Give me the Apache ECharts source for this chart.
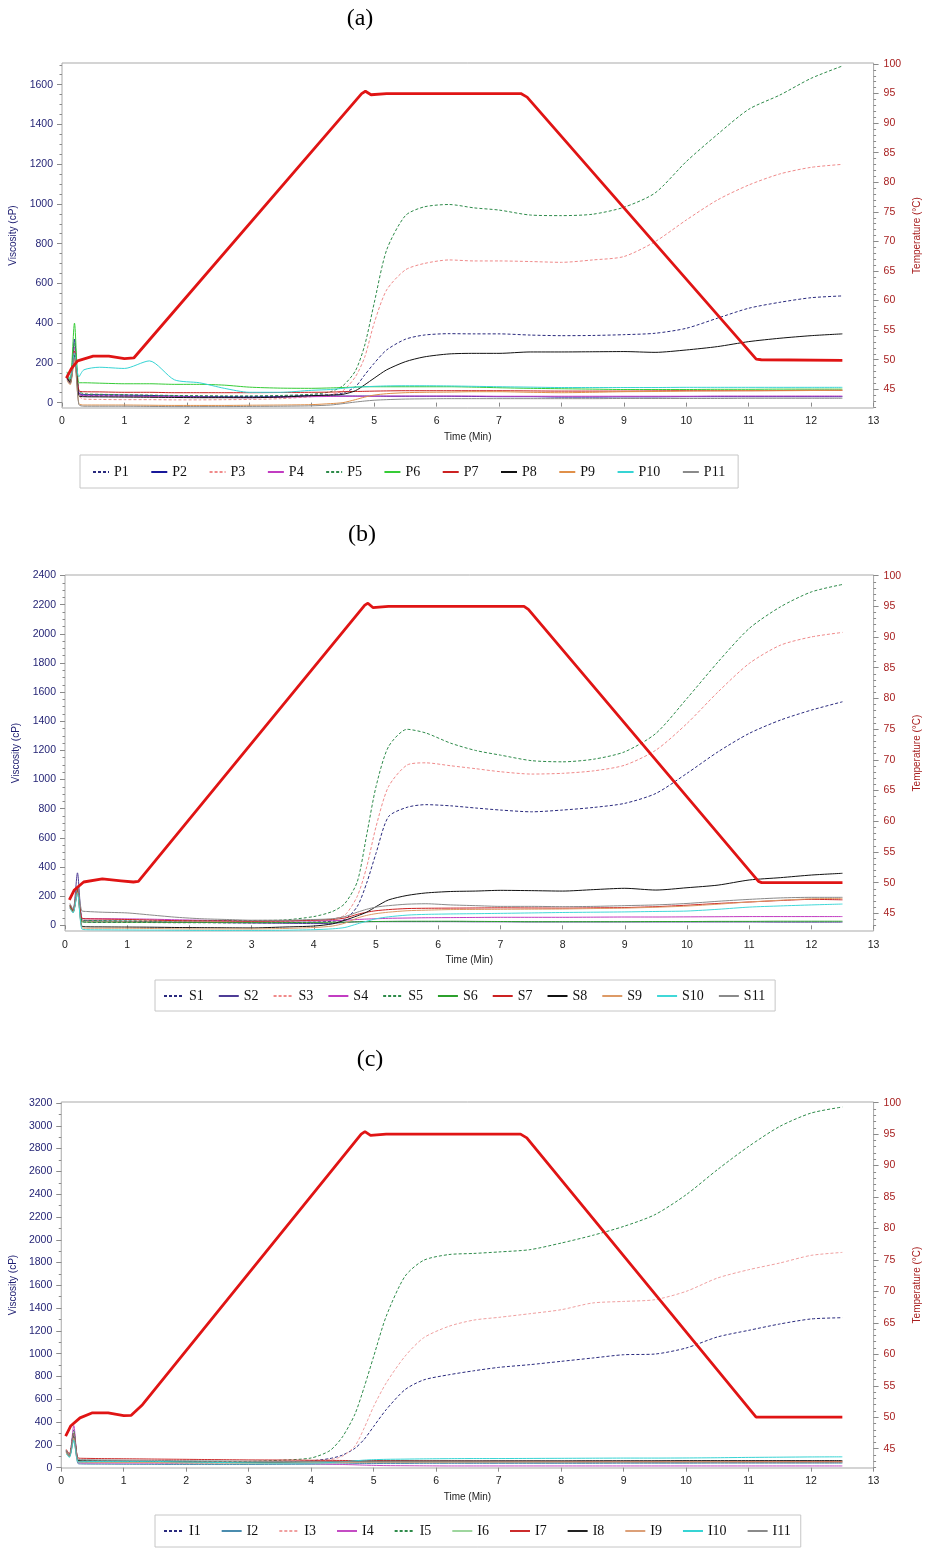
<!DOCTYPE html>
<html>
<head>
<meta charset="utf-8">
<script src="https://cdn.jsdelivr.net/npm/echarts@6/dist/echarts.min.js"></script>
<style>
  html, body { margin: 0; padding: 0; background: #ffffff; }
  #chart { width: 930px; height: 1550px; }
</style>
</head>
<body>
<div id="chart"></div>
<script>
// Sample times (min) shared by all viscosity traces
const TIME = [0.08, 0.13, 0.2, 0.27, 0.35, 0.6, 1, 1.4, 1.8, 2.2, 2.6, 3, 3.5, 4, 4.3, 4.5, 4.7, 4.85, 5, 5.2,
  5.5, 5.8, 6.2, 6.6, 7, 7.5, 8, 8.5, 9, 9.5, 10, 10.5, 11, 11.5, 12, 12.5];

// ---- Panel (a): P1..P11 viscosity (cP)
const NAMES_A = ['P1', 'P2', 'P3', 'P4', 'P5', 'P6', 'P7', 'P8', 'P9', 'P10', 'P11'];
const A_P1 = [120, 100, 230, 45, 35, 35, 34, 33, 32, 32, 31, 31, 33, 38, 40, 48, 80, 140, 198, 265, 319, 340, 347, 346, 346, 340, 337, 338, 342, 349, 374, 425, 475, 505, 528, 537];
const A_P2 = [130, 105, 320, 50, 40, 40, 38, 36, 33, 30, 29, 28, 30, 35, 34, 33, 33, 33, 33, 32, 32, 32, 32, 31, 30, 30, 28, 28, 29, 29, 30, 30, 30, 30, 30, 30];
const A_P3 = [125, 100, 250, 35, 18, 16, 15, 15, 14, 14, 15, 16, 20, 30, 40, 60, 130, 230, 400, 567, 668, 700, 718, 713, 713, 710, 706, 718, 735, 810, 919, 1020, 1095, 1151, 1184, 1199];
const A_P4 = [120, 95, 280, 45, 35, 34, 33, 31, 29, 28, 26, 25, 27, 30, 31, 32, 32, 32, 32, 33, 33, 33, 33, 33, 32, 32, 32, 32, 32, 32, 32, 33, 33, 33, 33, 33];
const A_P5 = [140, 110, 300, 60, 45, 42, 40, 38, 36, 35, 34, 34, 36, 42, 55, 85, 160, 290, 500, 768, 941, 985, 997, 980, 969, 944, 941, 948, 983, 1055, 1213, 1350, 1476, 1548, 1632, 1694];
const A_P6 = [155, 110, 400, 100, 100, 98, 95, 95, 92, 92, 88, 78, 73, 72, 74, 76, 78, 80, 80, 80, 80, 80, 80, 78, 75, 72, 70, 68, 66, 66, 66, 67, 67, 68, 68, 68];
const A_P7 = [130, 100, 260, 60, 55, 54, 52, 52, 50, 50, 50, 50, 51, 52, 53, 55, 56, 57, 58, 59, 60, 60, 60, 60, 60, 59, 58, 58, 58, 59, 60, 60, 60, 61, 62, 62];
const A_P8 = [125, 100, 240, 35, 30, 29, 28, 27, 26, 25, 25, 25, 28, 35, 38, 42, 60, 90, 123, 165, 206, 230, 245, 248, 248, 255, 255, 256, 257, 253, 265, 282, 307, 324, 337, 346];
const A_P9 = [110, 90, 220, -5, -12, -12, -12, -13, -14, -14, -14, -13, -12, -10, -5, 0, 15, 28, 38, 45, 50, 52, 53, 55, 55, 52, 50, 52, 55, 56, 58, 59, 60, 60, 61, 62];
const A_P10 = [150, 120, 250, 130, 165, 178, 172, 210, 115, 100, 72, 52, 52, 62, 66, 72, 78, 80, 82, 84, 85, 85, 84, 82, 80, 78, 76, 76, 76, 76, 77, 77, 77, 77, 77, 77];
const A_P11 = [115, 95, 230, -10, -18, -18, -18, -19, -20, -20, -20, -19, -18, -16, -12, -5, 3, 8, 12, 15, 18, 19, 20, 20, 20, 20, 20, 20, 21, 21, 21, 21, 22, 22, 22, 22];
const TEMP_T_A = [0.07, 0.15, 0.25, 0.5, 0.75, 1.0, 1.15, 4.8, 4.86, 4.95, 5.2, 7.35, 7.45, 11.12, 11.2, 12.5];
const TEMP_A = [46.9, 48.5, 49.8, 50.6, 50.6, 50.2, 50.3, 95.0, 95.4, 94.8, 95.0, 95.0, 94.4, 50.1, 50.0, 49.9];

// ---- Panel (b): S1..S11 viscosity (cP)
const NAMES_B = ['S1', 'S2', 'S3', 'S4', 'S5', 'S6', 'S7', 'S8', 'S9', 'S10', 'S11'];
const B_S1 = [130, 95, 240, 30, 22, 20, 20, 19, 18, 18, 17, 17, 18, 22, 28, 40, 130, 290, 494, 745, 810, 828, 820, 805, 791, 779, 791, 809, 837, 905, 1043, 1191, 1317, 1408, 1477, 1534];
const B_S2 = [140, 100, 360, 40, 32, 30, 28, 25, 22, 20, 18, 16, 14, 12, 14, 20, 24, 25, 25, 25, 25, 25, 25, 24, 24, 23, 23, 23, 23, 23, 23, 23, 23, 22, 22, 22];
const B_S3 = [135, 100, 250, 35, 28, 26, 25, 24, 23, 22, 22, 23, 26, 35, 45, 70, 200, 400, 676, 951, 1100, 1115, 1095, 1075, 1054, 1038, 1043, 1060, 1099, 1202, 1385, 1602, 1797, 1922, 1979, 2010];
const B_S4 = [125, 95, 260, 50, 45, 45, 44, 42, 38, 35, 32, 30, 30, 30, 32, 35, 40, 43, 45, 48, 50, 52, 53, 54, 55, 55, 55, 56, 57, 57, 58, 59, 60, 60, 60, 60];
const B_S5 = [140, 100, 260, 40, 34, 32, 30, 30, 30, 31, 32, 33, 36, 60, 95, 150, 300, 620, 951, 1225, 1345, 1320, 1250, 1200, 1168, 1130, 1122, 1140, 1191, 1317, 1557, 1808, 2037, 2185, 2288, 2339];
const B_S6 = [130, 95, 250, 25, 22, 22, 21, 21, 20, 20, 20, 20, 20, 20, 21, 22, 24, 25, 26, 27, 28, 28, 28, 27, 26, 25, 25, 25, 25, 26, 26, 27, 27, 28, 28, 28];
const B_S7 = [140, 100, 250, 50, 45, 43, 40, 36, 32, 30, 29, 28, 30, 35, 40, 50, 75, 90, 100, 108, 115, 117, 118, 119, 120, 119, 118, 120, 122, 128, 138, 150, 160, 170, 178, 175];
const B_S8 = [120, 90, 230, -5, -10, -11, -12, -13, -15, -16, -17, -18, -12, -5, 10, 35, 65, 90, 128, 174, 205, 222, 232, 235, 240, 238, 235, 245, 254, 242, 258, 276, 311, 327, 345, 357];
const B_S9 = [120, 90, 230, -15, -20, -20, -20, -22, -24, -25, -25, -25, -22, -15, -5, 15, 50, 68, 80, 90, 100, 104, 108, 109, 110, 111, 112, 115, 118, 124, 132, 145, 160, 172, 182, 185];
const B_S10 = [115, 85, 220, -25, -30, -31, -32, -33, -34, -35, -35, -35, -34, -30, -24, -15, 10, 28, 45, 58, 70, 75, 78, 80, 82, 85, 88, 90, 92, 95, 98, 110, 125, 133, 140, 146];
const B_S11 = [150, 110, 270, 100, 95, 90, 85, 70, 55, 45, 40, 35, 35, 40, 45, 60, 90, 110, 125, 135, 145, 148, 140, 135, 130, 130, 128, 130, 135, 140, 150, 165, 178, 188, 192, 192];
const TEMP_T_B = [0.07, 0.15, 0.3, 0.6, 0.9, 1.1, 1.18, 4.82, 4.87, 4.95, 5.2, 7.38, 7.45, 11.15, 11.2, 12.5];
const TEMP_B = [47.2, 48.8, 50.1, 50.6, 50.3, 50.1, 50.2, 95.2, 95.5, 94.8, 95.0, 95.0, 94.5, 50.2, 50.0, 50.0];

// ---- Panel (c): I1..I11 viscosity (cP)
const NAMES_C = ['I1', 'I2', 'I3', 'I4', 'I5', 'I6', 'I7', 'I8', 'I9', 'I10', 'I11'];
const C_I1 = [150, 110, 330, 55, 50, 48, 46, 44, 42, 42, 43, 45, 50, 60, 80, 110, 170, 250, 362, 509, 684, 770, 815, 850, 880, 904, 933, 962, 991, 997, 1050, 1147, 1205, 1261, 1305, 1316];
const C_I2 = [130, 100, 250, 35, 32, 31, 30, 29, 28, 28, 28, 28, 29, 30, 32, 33, 35, 36, 36, 37, 37, 38, 38, 38, 38, 38, 38, 38, 39, 39, 39, 40, 40, 40, 40, 40];
const C_I3 = [140, 105, 300, 55, 50, 48, 46, 45, 44, 44, 45, 46, 50, 58, 70, 100, 190, 350, 538, 743, 977, 1140, 1240, 1295, 1319, 1351, 1386, 1445, 1459, 1474, 1547, 1664, 1737, 1796, 1863, 1889];
const C_I4 = [140, 100, 370, 45, 40, 40, 40, 40, 40, 42, 44, 45, 42, 35, 30, 28, 25, 22, 20, 18, 17, 16, 15, 15, 15, 15, 15, 15, 15, 15, 15, 15, 15, 15, 15, 15];
const C_I5 = [150, 110, 320, 65, 60, 58, 55, 52, 50, 50, 52, 55, 65, 85, 150, 270, 470, 710, 977, 1328, 1679, 1820, 1870, 1880, 1893, 1913, 1971, 2038, 2117, 2220, 2395, 2615, 2819, 2995, 3112, 3165];
const C_I6 = [130, 95, 260, 55, 52, 50, 48, 46, 44, 42, 42, 42, 42, 42, 43, 44, 45, 46, 47, 48, 48, 49, 50, 50, 50, 50, 51, 51, 52, 52, 53, 53, 54, 54, 55, 55];
const C_I7 = [160, 120, 300, 85, 82, 80, 78, 76, 74, 72, 70, 68, 67, 65, 64, 63, 62, 62, 62, 61, 60, 59, 58, 57, 56, 56, 55, 55, 55, 55, 55, 55, 55, 55, 55, 55];
const C_I8 = [140, 100, 280, 62, 60, 59, 58, 55, 52, 50, 48, 46, 46, 50, 52, 54, 55, 56, 56, 57, 58, 58, 59, 59, 60, 60, 60, 61, 61, 61, 62, 62, 62, 62, 62, 62];
const C_I9 = [135, 100, 260, 50, 48, 47, 46, 45, 43, 42, 41, 40, 41, 44, 45, 46, 47, 47, 48, 48, 48, 48, 48, 49, 49, 50, 50, 50, 51, 51, 52, 52, 51, 51, 50, 50];
const C_I10 = [120, 90, 240, 50, 52, 54, 55, 55, 52, 48, 45, 42, 40, 40, 45, 52, 60, 66, 70, 73, 75, 77, 79, 80, 80, 81, 82, 83, 84, 84, 85, 87, 90, 92, 94, 95];
const C_I11 = [150, 110, 300, 72, 70, 68, 66, 64, 62, 60, 58, 56, 55, 54, 53, 52, 52, 51, 51, 50, 50, 50, 50, 49, 49, 48, 48, 47, 47, 46, 46, 46, 45, 45, 45, 45];
const TEMP_T_C = [0.07, 0.15, 0.3, 0.5, 0.75, 1.0, 1.12, 1.3, 4.8, 4.86, 4.95, 5.2, 7.35, 7.45, 11.12, 11.2, 12.5];
const TEMP_C = [47.0, 48.6, 49.9, 50.7, 50.7, 50.25, 50.3, 52.0, 95.0, 95.4, 94.8, 95.0, 95.0, 94.4, 50.0, 50.0, 50.0];

// ---- Tick labels
const VISC_TICKS_A = [0, 200, 400, 600, 800, 1000, 1200, 1400, 1600];
const VISC_TICKS_B = [0, 200, 400, 600, 800, 1000, 1200, 1400, 1600, 1800, 2000, 2200, 2400];
const VISC_TICKS_C = [0, 200, 400, 600, 800, 1000, 1200, 1400, 1600, 1800, 2000, 2200, 2400, 2600, 2800, 3000, 3200];
const TEMP_TICKS = [45, 50, 55, 60, 65, 70, 75, 80, 85, 90, 95, 100];

// ---- Styles
const SANS = 'Liberation Sans';
const SERIF = 'Liberation Serif';
const NAVY_TXT = '#1f1f72';
const RED_TXT = '#a82020';
const TEMP_COLOR = '#e01414';
const FRAME = '#a9a9a9';
const TICK = '#8a8a8a';

const COLORS_A = ['#2a2a7e', '#18189a', '#f08a8a', '#c23cc2', '#2e8b4a', '#36cc36', '#cc2222', '#111111', '#e0904a', '#36d4d4', '#8a8a8a'];
const COLORS_B = ['#2a2a7e', '#4e3c96', '#f08a8a', '#c23cc2', '#2e8b4a', '#2ca02c', '#cc2222', '#111111', '#dd9a66', '#40d8d8', '#8a8a8a'];
const COLORS_C = ['#2a2a7e', '#4a8cae', '#f0a0a0', '#c44cc4', '#2e8b4a', '#9ed69e', '#cc2c2c', '#222222', '#dca078', '#36d4d4', '#8a8a8a'];
const DASHED = [true, false, true, false, true, false, false, false, false, false, false];

const PANELS = [
  {
    title: '(a)', titleX: 360, titleY: 19,
    grid: { left: 62, top: 63, width: 820, height: 345 },
    viscRange: [-27, 1709], tempRange: [41.84, 100.17],
    viscTicks: VISC_TICKS_A, minorStep: 50,
    names: NAMES_A, colors: COLORS_A,
    values: [A_P1, A_P2, A_P3, A_P4, A_P5, A_P6, A_P7, A_P8, A_P9, A_P10, A_P11],
    tempT: TEMP_T_A, temp: TEMP_A,
    gaps: { left: 34, right: 31, bottom: 24, lblL: 9, lblR: 10, lblB: 8 },
    legend: { left: 80, top: 455, itemWidth: 16, itemGap: 21.5, padding: [10, 13, 9, 12] }
  },
  {
    title: '(b)', titleX: 362, titleY: 535,
    grid: { left: 65, top: 575, width: 815, height: 356 },
    viscRange: [-39, 2404], tempRange: [42.12, 100.1],
    viscTicks: VISC_TICKS_B, minorStep: 50,
    names: NAMES_B, colors: COLORS_B,
    values: [B_S1, B_S2, B_S3, B_S4, B_S5, B_S6, B_S7, B_S8, B_S9, B_S10, B_S11],
    tempT: TEMP_T_B, temp: TEMP_B,
    gaps: { left: 34, right: 31, bottom: 24, lblL: 9, lblR: 10, lblB: 9 },
    legend: { left: 155, top: 980, itemWidth: 20, itemGap: 14, padding: [9, 10, 8, 8] }
  },
  {
    title: '(c)', titleX: 370, titleY: 1060,
    grid: { left: 56, top: 1102, width: 831, height: 366 },
    viscRange: [-3, 3209], tempRange: [41.93, 100.1],
    viscTicks: VISC_TICKS_C, minorStep: 100,
    names: NAMES_C, colors: COLORS_C,
    values: [C_I1, C_I2, C_I3, C_I4, C_I5, C_I6, C_I7, C_I8, C_I9, C_I10, C_I11],
    tempT: TEMP_T_C, temp: TEMP_C,
    gaps: { left: 35, right: 30, bottom: 24, lblL: 9, lblR: 10, lblB: 8 },
    legend: { left: 155, top: 1515, itemWidth: 20, itemGap: 20, padding: [9, 10, 9, 8] }
  }
];

function stepValues(lo, hi, step) {
  const out = [];
  for (let v = Math.ceil(lo / step) * step; v <= hi; v += step) out.push(Math.round(v * 1000) / 1000);
  return out;
}
const plain = (v) => String(v);

const option = {
  animation: false,
  backgroundColor: '#ffffff',
  grid: [], xAxis: [], yAxis: [], series: [], legend: [], graphic: []
};

PANELS.forEach((p, i) => {
  const yBase = i * 4;
  option.grid.push(Object.assign({ show: true, borderColor: FRAME, borderWidth: 1, backgroundColor: '#ffffff' }, p.grid));

  option.xAxis.push({
    gridIndex: i, type: 'value', min: 0, max: 13, interval: 1,
    name: 'Time (Min)', nameLocation: 'middle', nameGap: p.gaps.bottom,
    nameTextStyle: { fontFamily: SANS, fontSize: 10, color: '#222' },
    axisLine: { show: false },
    axisTick: { show: true, length: 4, lineStyle: { color: TICK } },
    axisLabel: { formatter: plain, fontFamily: SANS, fontSize: 10.5, color: '#222', margin: p.gaps.lblB },
    splitLine: { show: false }
  });

  // viscosity axis (left)
  option.yAxis.push({
    gridIndex: i, type: 'value', position: 'left',
    min: p.viscRange[0], max: p.viscRange[1],
    name: 'Viscosity (cP)', nameLocation: 'middle', nameRotate: 90, nameGap: p.gaps.left,
    nameTextStyle: { fontFamily: SANS, fontSize: 10, color: NAVY_TXT },
    axisLine: { show: false },
    axisTick: { show: true, length: 5, customValues: p.viscTicks, lineStyle: { color: TICK } },
    axisLabel: { customValues: p.viscTicks, formatter: plain, fontFamily: SANS, fontSize: 10.5, color: NAVY_TXT, margin: p.gaps.lblL },
    splitLine: { show: false }
  });
  // temperature axis (right)
  option.yAxis.push({
    gridIndex: i, type: 'value', position: 'right',
    min: p.tempRange[0], max: p.tempRange[1],
    name: 'Temperature (°C)', nameLocation: 'middle', nameRotate: 90, nameGap: p.gaps.right,
    nameTextStyle: { fontFamily: SANS, fontSize: 10, color: RED_TXT },
    axisLine: { show: false },
    axisTick: { show: true, length: 5, customValues: TEMP_TICKS, lineStyle: { color: TICK } },
    axisLabel: { customValues: TEMP_TICKS, formatter: plain, fontFamily: SANS, fontSize: 10.5, color: RED_TXT, margin: p.gaps.lblR },
    splitLine: { show: false }
  });
  // minor tick marks on both sides
  option.yAxis.push({
    gridIndex: i, type: 'value', position: 'left',
    min: p.viscRange[0], max: p.viscRange[1],
    axisLine: { show: false }, axisLabel: { show: false }, splitLine: { show: false },
    axisTick: { show: true, length: 2.5, customValues: stepValues(p.viscRange[0], p.viscRange[1], p.minorStep), lineStyle: { color: TICK } }
  });
  option.yAxis.push({
    gridIndex: i, type: 'value', position: 'right',
    min: p.tempRange[0], max: p.tempRange[1],
    axisLine: { show: false }, axisLabel: { show: false }, splitLine: { show: false },
    axisTick: { show: true, length: 2.5, customValues: stepValues(p.tempRange[0], p.tempRange[1], 1), lineStyle: { color: TICK } }
  });

  p.names.forEach((name, k) => {
    option.series.push({
      type: 'line', name: name, xAxisIndex: i, yAxisIndex: yBase,
      data: TIME.map((t, j) => [t, p.values[k][j]]),
      symbol: 'none', showSymbol: false, smooth: 0.25,
      lineStyle: { color: p.colors[k], width: 1, type: DASHED[k] ? [3, 2] : 'solid' },
      itemStyle: { color: p.colors[k] },
      emphasis: { disabled: true }, z: 2
    });
  });

  option.series.push({
    type: 'line', name: 'Temperature ' + p.title, xAxisIndex: i, yAxisIndex: yBase + 1,
    data: p.tempT.map((t, j) => [t, p.temp[j]]),
    symbol: 'none', showSymbol: false, smooth: false,
    lineStyle: { color: TEMP_COLOR, width: 2.8 },
    itemStyle: { color: TEMP_COLOR },
    emphasis: { disabled: true }, z: 5
  });

  option.legend.push({
    data: p.names, orient: 'horizontal',
    left: p.legend.left, top: p.legend.top,
    itemWidth: p.legend.itemWidth, itemHeight: 12, itemGap: p.legend.itemGap,
    padding: p.legend.padding,
    borderColor: '#c6c6c6', borderWidth: 1, borderRadius: 0,
    selectedMode: false,
    itemStyle: { opacity: 0 },
    textStyle: { fontFamily: SERIF, fontSize: 14, color: '#111' }
  });

  option.graphic.push({
    type: 'text', x: p.titleX, y: p.titleY,
    style: { text: p.title, font: '24px "Liberation Serif"', fill: '#000', textAlign: 'center', textVerticalAlign: 'middle' }
  });
});

const chart = echarts.init(document.getElementById('chart'), null, { renderer: 'canvas' });
chart.setOption(option);
</script>
</body>
</html>
